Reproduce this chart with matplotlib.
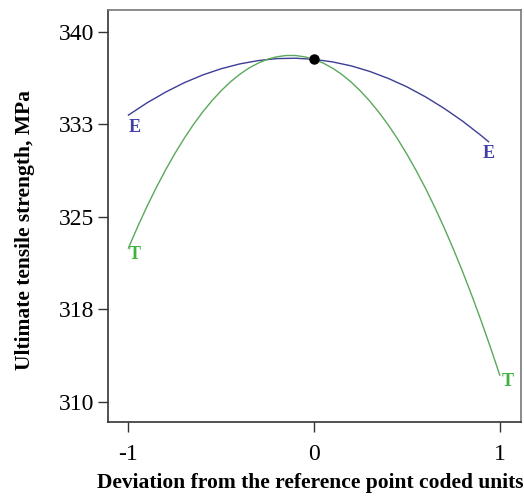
import matplotlib.pyplot as plt

# Perturbation plot data
x_T = [-1.0, -0.95, -0.9, -0.85, -0.8, -0.75, -0.7, -0.65, -0.6, -0.55, -0.5,
       -0.45, -0.4, -0.35, -0.3, -0.25, -0.2, -0.15, -0.1, -0.05, 0.0,
       0.05, 0.1, 0.15, 0.2, 0.25, 0.3, 0.35, 0.4, 0.45, 0.5,
       0.55, 0.6, 0.65, 0.7, 0.75, 0.8, 0.85, 0.9, 0.95, 1.0]
y_T = [322.46, 324.20, 325.83, 327.36, 328.79, 330.12, 331.34, 332.47, 333.49, 334.41, 335.22,
       335.94, 336.55, 337.06, 337.46, 337.77, 337.97, 338.07, 338.07, 337.96, 337.76,
       337.45, 337.04, 336.53, 335.91, 335.19, 334.37, 333.45, 332.43, 331.30, 330.07,
       328.74, 327.31, 325.77, 324.13, 322.39, 320.55, 318.60, 316.56, 314.41, 312.16]

x_E = [-1.0, -0.9, -0.8, -0.7, -0.6, -0.5, -0.4, -0.3, -0.2, -0.1, 0.0,
       0.1, 0.2, 0.3, 0.4, 0.5, 0.6, 0.7, 0.8, 0.9, 0.94]
y_E = [333.24, 334.23, 335.10, 335.86, 336.49, 337.00, 337.39, 337.66, 337.82, 337.85, 337.76,
       337.55, 337.23, 336.78, 336.21, 335.53, 334.72, 333.79, 332.75, 331.58, 331.08]

center_x = 0.0
center_y = 337.76

y_ticks = [310, 317.5, 325, 332.5, 340]
y_tick_labels = ["310", "318", "325", "333", "340"]
x_ticks = [-1, 0, 1]
x_tick_labels = ["-1", "0", "1"]

plt.rcParams['font.family'] = ['Liberation Serif', 'DejaVu Serif']

fig = plt.figure(figsize=(5.24, 5.0), dpi=100)
ax = fig.add_axes([108 / 524, 1 - 421.7 / 500, (520.7 - 108) / 524, (421.7 - 10) / 500])

blue = "#3d3d96"
green = "#5aa85a"

ax.plot(x_E, y_E, color=blue, lw=1.0)
ax.plot(x_T, y_T, color=green, lw=1.0)
ax.plot(center_x, center_y, 'o', color='black', ms=6.5, zorder=5)

# end labels
ax.text(x_E[0], y_E[0] - 0.3, "E", color="#4040a8", fontsize=13, fontweight='bold', ha='left', va='top')
ax.text(x_E[-1], y_E[-1] - 0.3, "E", color="#4040a8", fontsize=13, fontweight='bold', ha='center', va='top')
ax.text(x_T[0], y_T[0] + 0.2, "T", color="#3cb43c", fontsize=13, fontweight='bold', ha='left', va='top')
ax.text(x_T[-1] + 0.01, y_T[-1] + 0.2, "T", color="#3cb43c", fontsize=13, fontweight='bold', ha='left', va='top')

ax.set_xlim(-1.11, 1.113)
ax.set_ylim(308.38, 341.76)
ax.set_xticks(x_ticks)
ax.set_xticklabels(x_tick_labels)
ax.set_yticks(y_ticks)
ax.set_yticklabels(y_tick_labels)
ax.tick_params(axis='both', labelsize=17, length=7, width=1, direction='out', color='#333333')
ax.tick_params(axis='x', pad=9)
ax.tick_params(axis='y', pad=3)

for s in ['left', 'bottom']:
    ax.spines[s].set_color('#333333')
    ax.spines[s].set_linewidth(1.2)
for s in ['top', 'right']:
    ax.spines[s].set_color('#777777')
    ax.spines[s].set_linewidth(1.2)

fig.text(310 / 524, 1 - 483 / 500, "Deviation from the reference point coded units",
         fontsize=15.5, fontweight='bold', ha='center', va='center')
fig.text(25 / 524, 1 - 230 / 500, "Ultimate tensile strength, MPa",
         fontsize=15.5, fontweight='bold', ha='center', va='center', rotation=90)

fig.savefig("out.png", dpi=100)
